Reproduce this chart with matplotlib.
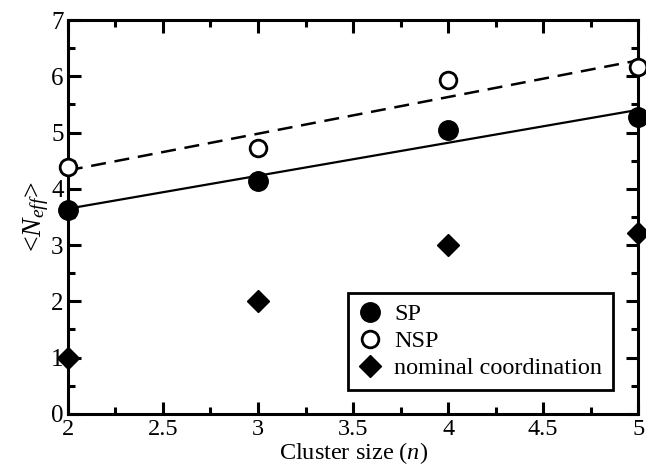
import numpy as np
import matplotlib
matplotlib.use('Agg')
import matplotlib.pyplot as plt
from matplotlib.ticker import MultipleLocator, FormatStrFormatter

plt.rcParams['font.family'] = ['Liberation Serif', 'DejaVu Serif']
plt.rcParams['mathtext.fontset'] = 'custom'
plt.rcParams['mathtext.rm'] = 'Liberation Serif'
plt.rcParams['mathtext.it'] = 'Liberation Serif:italic'

# cluster size n
n = [2, 3, 4, 5]
sp = [3.63, 4.14, 5.05, 5.28]
nsp = [4.39, 4.73, 5.94, 6.16]
nominal = [1.0, 2.0, 3.0, 3.22]

fig = plt.figure(figsize=(6.46, 4.66), dpi=100)
ax = fig.add_axes([0.105, 0.112, 0.883, 0.845])

# linear fits through SP and NSP points
xs = np.array([2, 5])
p_sp = np.polyfit(n, sp, 1)
p_nsp = np.polyfit(n, nsp, 1)
ax.plot(xs, np.polyval(p_sp, xs), color='black', lw=1.6, clip_on=False)
ax.plot(xs, np.polyval(p_nsp, xs), color='black', lw=1.8, ls=(0, (6, 3.5)), clip_on=False)

ax.plot(n, sp, 'o', color='black', ms=14, label='SP', clip_on=False, zorder=5)
ax.plot(n, nsp, 'o', mfc='white', mec='black', mew=2, ms=12, label='NSP', clip_on=False, zorder=5)
ax.plot(n, nominal, 'D', color='black', ms=11, label='nominal coordination', clip_on=False, zorder=5)

ax.set_xlim(2, 5)
ax.set_ylim(0, 7)
ax.xaxis.set_major_locator(MultipleLocator(0.5))
ax.xaxis.set_minor_locator(MultipleLocator(0.25))
ax.xaxis.set_major_formatter(FormatStrFormatter('%g'))
ax.yaxis.set_major_locator(MultipleLocator(1))
ax.yaxis.set_minor_locator(MultipleLocator(0.5))
ax.tick_params(which='both', direction='in', top=True, right=True, width=2.2, labelsize=18)
ax.tick_params(which='major', length=9)
ax.tick_params(which='minor', length=5)
ax.tick_params(axis='x', which='major', pad=4, labelsize=17.5)
ax.tick_params(axis='y', which='major', pad=3)
for s in ax.spines.values():
    s.set_linewidth(2.2)

ax.set_xlabel('Cluster size ($n$)', fontsize=17.5, labelpad=0)
ax.set_ylabel('<$N_{eff}$>', fontsize=20, labelpad=0)

leg = ax.legend(loc='lower right', bbox_to_anchor=(0.956, 0.06), borderaxespad=0, fontsize=17.5,
                frameon=True, fancybox=False, edgecolor='black', framealpha=1,
                handlelength=0.9, handletextpad=0.55, borderpad=0.45, labelspacing=0.2)
leg.get_frame().set_linewidth(2)

fig.savefig('out.png', dpi=100)
